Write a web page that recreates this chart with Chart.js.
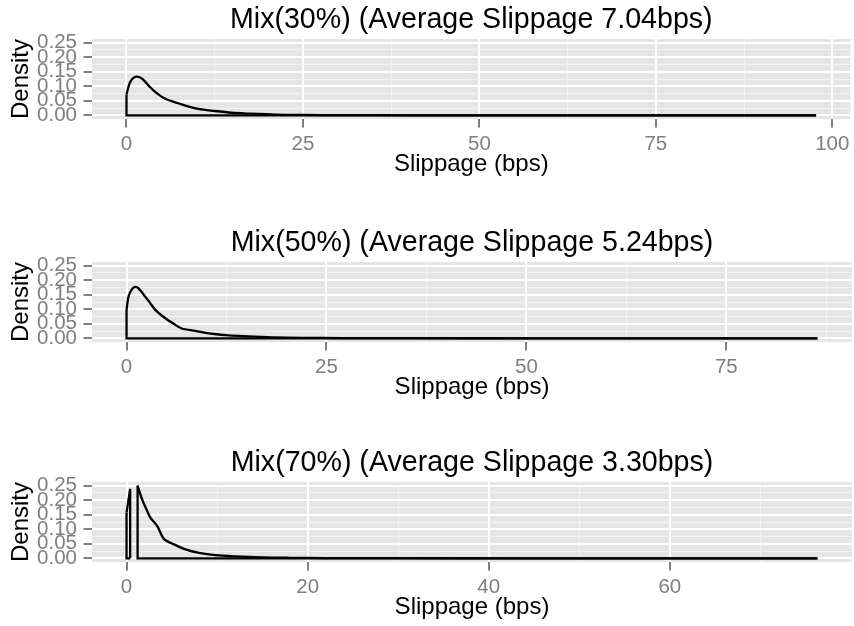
<!DOCTYPE html>
<html>
<head>
<meta charset="utf-8">
<title>Slippage density</title>
<script src="https://cdn.jsdelivr.net/npm/chart.js@4.4.0/dist/chart.umd.min.js"></script>
<style>
  html, body { margin: 0; padding: 0; background: #ffffff; }
  #wrap { position: relative; width: 854px; height: 626px; overflow: hidden; }
  .panel { position: absolute; left: 0; }
</style>
</head>
<body>
<div id="wrap">
  <canvas id="chart30" class="panel" width="854" height="183" style="top:0px"></canvas>
  <canvas id="chart50" class="panel" width="854" height="183" style="top:223px"></canvas>
  <canvas id="chart70" class="panel" width="854" height="183" style="top:443px"></canvas>
</div>
<script>
'use strict';

// y axis is the same on all three panels
let densityTicks = [0, 0.05, 0.10, 0.15, 0.20, 0.25];
let densityMinor = [0.025, 0.075, 0.125, 0.175, 0.225];
let densityLimits = [-0.0125, 0.2625];

// Mix 30%
let mix30Title = 'Mix(30%) (Average Slippage 7.04bps)';
let mix30Ticks = [0, 25, 50, 75, 100];
let mix30Minor = [12.5, 37.5, 62.5, 87.5];
let mix30Limits = [-4.885, 102.585];
let mix30X = [0, 0.5, 1.0, 1.5, 2.2, 3.1, 4.1, 5.5, 7.8, 10.2, 12.5, 14.9, 17.3, 21.1, 25, 30, 40, 55, 75, 97.7];
let mix30Y = [0.072, 0.114, 0.129, 0.133, 0.126, 0.103, 0.080, 0.057, 0.038, 0.022, 0.015, 0.009, 0.006, 0.0025, 0.0015, 0.0008, 0.0003, 0.0001, 0.00005, 0];

// Mix 50%
let mix50Title = 'Mix(50%) (Average Slippage 5.24bps)';
let mix50Ticks = [0, 25, 50, 75];
let mix50Minor = [12.5, 37.5, 62.5, 87.5];
let mix50Limits = [-4.32, 90.72];
let mix50X = [0, 0.25, 0.68, 1.1, 1.5, 2.15, 2.8, 3.6, 4.85, 5.9, 6.9, 8.6, 10.3, 12.8, 15.3, 18.6, 22, 27, 35, 50, 70, 86.4];
let mix50Y = [0.098, 0.144, 0.169, 0.177, 0.172, 0.150, 0.127, 0.098, 0.069, 0.050, 0.034, 0.026, 0.017, 0.010, 0.007, 0.0035, 0.002, 0.001, 0.0005, 0.0002, 0.0001, 0];

// Mix 70% (two separate pieces)
let mix70Title = 'Mix(70%) (Average Slippage 3.30bps)';
let mix70Ticks = [0, 20, 40, 60];
let mix70Minor = [10, 30, 50, 70];
let mix70Limits = [-3.815, 80.115];
let mix70SpikeX = [0, 0.4];
let mix70SpikeY = [0.157, 0.239];
let mix70X = [1.22, 1.73, 2.29, 2.65, 3.39, 4.13, 5.23, 6.5, 8.0, 9.8, 12.0, 15.0, 18, 22, 30, 45, 60, 76.3];
let mix70Y = [0.25, 0.202, 0.162, 0.139, 0.111, 0.067, 0.048, 0.031, 0.019, 0.011, 0.0068, 0.0034, 0.002, 0.001, 0.0005, 0.0002, 0.0001, 0];

Chart.defaults.font.family = '"Liberation Sans", Arial, Helvetica, sans-serif';

// grey panel behind the grid, like ggplot
const panelBackground = {
  id: 'panelBackground',
  beforeDraw(chart){
    let a = chart.chartArea;
    chart.ctx.save();
    chart.ctx.fillStyle = '#e5e5e5';
    chart.ctx.fillRect(a.left, a.top, a.right - a.left, a.bottom - a.top);
    chart.ctx.restore();
  }
};

// the smooth part of the outline
function curvePoints(xs, ys){
  let pts = [];
  for(let i=0; i<xs.length; i++){
    pts.push({x: xs[i], y: ys[i]});
  }
  if(ys[ys.length-1] !== 0){
    pts.push({x: xs[xs.length-1], y: 0});
  }
  return pts;
}
// the straight part: along the base and up the left edge
function edgePoints(xs, ys){
  return [{x: xs[xs.length-1], y: 0}, {x: xs[0], y: 0}, {x: xs[0], y: ys[0]}];
}
function lineSet(points, tension){
  return {
    data: points,
    showLine: true,
    borderColor: '#000000',
    borderWidth: 2.3,
    pointRadius: 0,
    tension: tension
  };
}

function buildTicks(major, minor){
  return function(scale){
    scale.ticks = major.concat(minor).sort((a, b) => a - b).map(v => ({value: v}));
  };
}

function makePanel(canvasId, title, xTicks, xMinor, xLimits, datasets){
  const config = {
    type: 'scatter',
    data: {datasets: datasets},
    options: {
      responsive: false,
      animation: false,
      layout: {padding: {left: 0, right: 2, top: 0, bottom: 0}},
      plugins: {
        legend: {display: false},
        tooltip: {enabled: false},
        title: {
          display: true,
          text: title,
          fullSize: false,
          color: '#000000',
          font: {size: 28.6, weight: 'normal', lineHeight: 1.2},
          padding: {top: 3, bottom: 1.68}
        }
      },
      scales: {
        x: {
          type: 'linear',
          min: xLimits[0],
          max: xLimits[1],
          afterBuildTicks: buildTicks(xTicks, xMinor),
          afterFit: (scale) => { scale.height = 64; },
          border: {display: false},
          grid: {
            color: (c) => xTicks.includes(c.tick.value) ? '#ffffff' : '#f2f2f2',
            lineWidth: (c) => xTicks.includes(c.tick.value) ? 2 : 1,
            tickColor: (c) => xTicks.includes(c.tick.value) ? '#7f7f7f' : 'rgba(0,0,0,0)',
            tickWidth: 2,
            tickLength: 8.5
          },
          ticks: {
            autoSkip: false,
            maxRotation: 0,
            minRotation: 0,
            padding: 4.5,
            color: '#7f7f7f',
            font: {size: 20.5},
            callback: (value) => xTicks.includes(value) ? String(value) : ''
          },
          title: {
            display: true,
            text: 'Slippage (bps)',
            color: '#000000',
            font: {size: 24, lineHeight: 1.2},
            padding: {top: 0, bottom: 4.6}
          }
        },
        y: {
          type: 'linear',
          min: densityLimits[0],
          max: densityLimits[1],
          afterBuildTicks: buildTicks(densityTicks, densityMinor),
          afterFit: (scale) => { scale.width = 92; },
          border: {display: false},
          grid: {
            color: (c) => densityTicks.includes(c.tick.value) ? '#ffffff' : '#f2f2f2',
            lineWidth: (c) => densityTicks.includes(c.tick.value) ? 2 : 1,
            tickColor: (c) => densityTicks.includes(c.tick.value) ? '#7f7f7f' : 'rgba(0,0,0,0)',
            tickWidth: 2,
            tickLength: 8.5
          },
          ticks: {
            autoSkip: false,
            padding: 6.5,
            color: '#7f7f7f',
            font: {size: 20.5},
            callback: (value) => densityTicks.includes(value) ? value.toFixed(2) : ''
          },
          title: {
            display: true,
            text: 'Density',
            color: '#000000',
            font: {size: 24, lineHeight: 1.2},
            padding: {top: 6.6, bottom: 0}
          }
        }
      }
    },
    plugins: [panelBackground]
  };
  return new Chart(document.getElementById(canvasId), config);
}

makePanel('chart30', mix30Title, mix30Ticks, mix30Minor, mix30Limits, [
  lineSet(curvePoints(mix30X, mix30Y), 0.3),
  lineSet(edgePoints(mix30X, mix30Y), 0)
]);
makePanel('chart50', mix50Title, mix50Ticks, mix50Minor, mix50Limits, [
  lineSet(curvePoints(mix50X, mix50Y), 0.3),
  lineSet(edgePoints(mix50X, mix50Y), 0)
]);
makePanel('chart70', mix70Title, mix70Ticks, mix70Minor, mix70Limits, [
  lineSet(curvePoints(mix70SpikeX, mix70SpikeY), 0),
  lineSet(edgePoints(mix70SpikeX, mix70SpikeY), 0),
  lineSet(curvePoints(mix70X, mix70Y), 0.3),
  lineSet(edgePoints(mix70X, mix70Y), 0)
]);
</script>
</body>
</html>
